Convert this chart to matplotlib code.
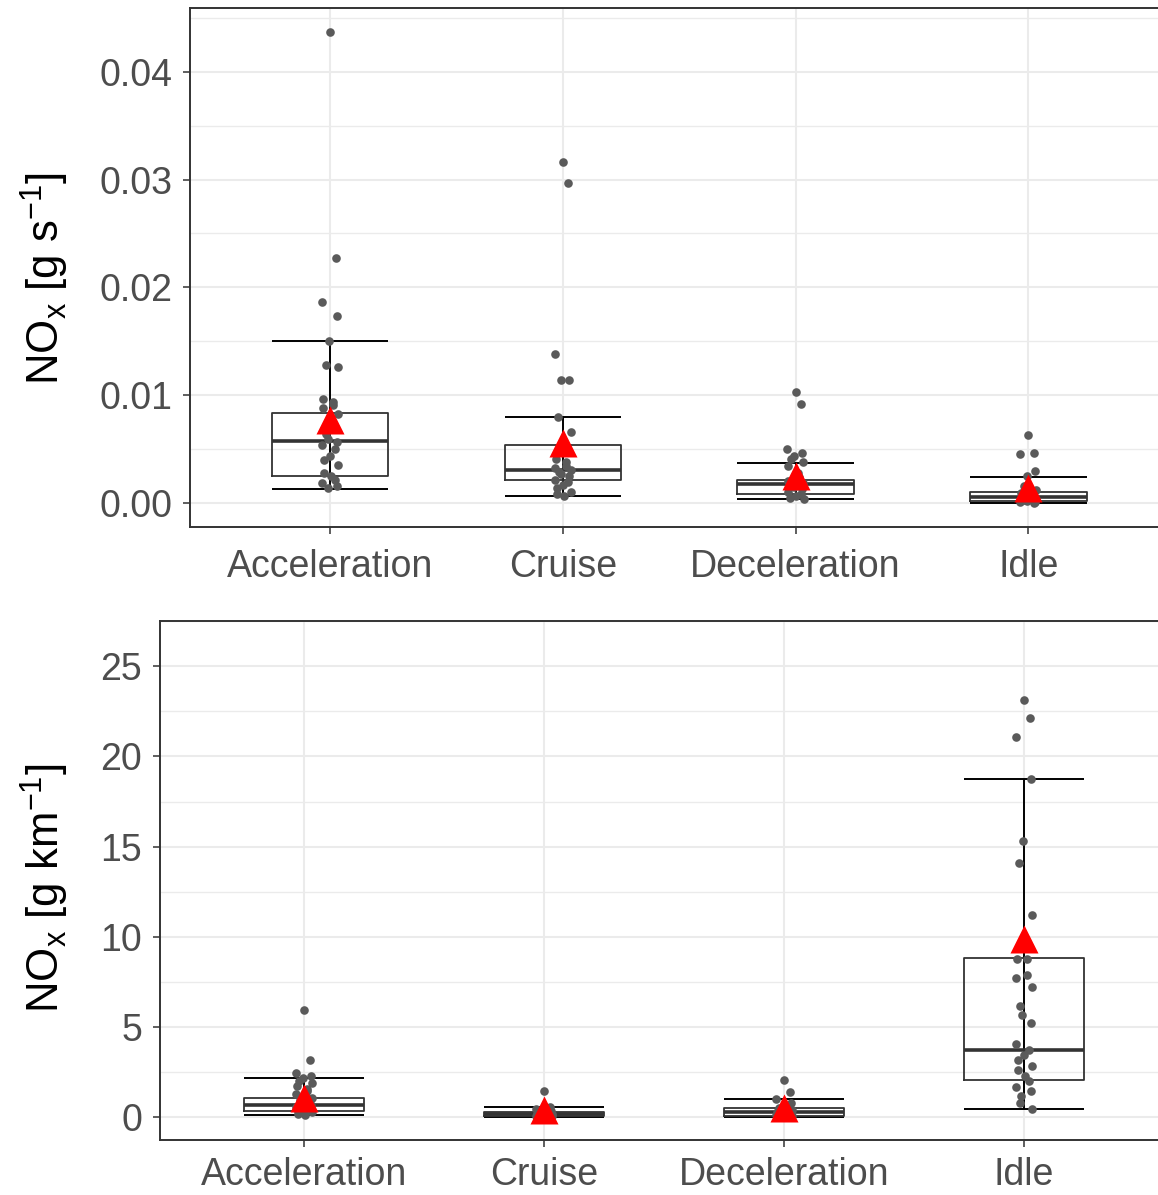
import matplotlib
matplotlib.use("Agg")
import matplotlib.pyplot as plt
import numpy as np

plt.rcParams['font.family'] = ['Liberation Sans', 'DejaVu Sans']
plt.rcParams['mathtext.fontset'] = 'custom'
plt.rcParams['mathtext.rm'] = 'Liberation Sans'
plt.rcParams['mathtext.it'] = 'Liberation Sans:italic'
plt.rcParams['mathtext.bf'] = 'Liberation Sans:bold'

categories = ['Acceleration', 'Cruise', 'Deceleration', 'Idle']

######### top panel: NOx [g/s] #########
gs_points = [
	[0.0437, 0.0227, 0.0187, 0.0174, 0.0150, 0.0128, 0.0126, 0.0097, 0.0094, 0.0091,
	 0.0088, 0.0083, 0.0064, 0.0060, 0.0057, 0.0054, 0.0050, 0.0044, 0.0040, 0.0036,
	 0.0028, 0.0025, 0.0022, 0.0019, 0.0016, 0.0014],
	[0.0316, 0.0297, 0.0138, 0.0114, 0.0114, 0.0080, 0.0066, 0.0041, 0.0038, 0.0035,
	 0.0033, 0.0031, 0.0029, 0.0027, 0.0025, 0.0022, 0.0020, 0.0017, 0.0014, 0.0011,
	 0.0009, 0.0007],
	[0.0103, 0.0092, 0.0050, 0.0047, 0.0044, 0.0041, 0.0038, 0.0035, 0.0028, 0.0024,
	 0.0021, 0.0019, 0.0017, 0.0015, 0.0013, 0.0011, 0.0009, 0.0007, 0.0005, 0.0004],
	[0.0063, 0.0047, 0.0046, 0.0030, 0.0025, 0.0016, 0.0012, 0.0010, 0.0008, 0.0006,
	 0.0005, 0.0004, 0.0003, 0.0002, 0.0001, 0.0001, 0.0000],
]
gs_whislo = [0.0013, 0.0007, 0.0004, 0.0000]
gs_q1     = [0.0025, 0.0022, 0.0009, 0.0002]
gs_median = [0.0058, 0.0031, 0.0018, 0.0006]
gs_q3     = [0.0084, 0.0054, 0.0022, 0.0011]
gs_whishi = [0.0150, 0.0080, 0.0037, 0.0024]
gs_mean   = [0.0077, 0.0056, 0.0025, 0.0014]
gs_ticks  = [0.00, 0.01, 0.02, 0.03, 0.04]

######### bottom panel: NOx [g/km] #########
gkm_points = [
	[5.97, 3.20, 2.45, 2.30, 2.20, 2.00, 1.90, 1.75, 1.60, 1.45, 1.30, 1.10, 0.95,
	 0.80, 0.70, 0.60, 0.50, 0.40, 0.35, 0.30, 0.20, 0.15],
	[1.45, 0.60, 0.45, 0.35, 0.30, 0.25, 0.20, 0.18, 0.15, 0.12, 0.10, 0.08, 0.05, 0.03],
	[2.10, 1.40, 1.00, 0.80, 0.60, 0.50, 0.40, 0.30, 0.25, 0.20, 0.15, 0.10, 0.07,
	 0.05, 0.03],
	[23.1, 22.1, 21.1, 18.75, 15.3, 14.1, 11.2, 8.8, 8.8, 7.9, 7.7, 7.25, 6.2, 5.65,
	 5.25, 4.05, 3.75, 3.45, 3.2, 2.85, 2.65, 2.3, 2.0, 1.7, 1.45, 1.2, 0.8, 0.45],
]
gkm_whislo = [0.13, 0.02, 0.03, 0.45]
gkm_q1     = [0.37, 0.08, 0.08, 2.10]
gkm_median = [0.70, 0.18, 0.30, 3.73]
gkm_q3     = [1.05, 0.30, 0.55, 8.82]
gkm_whishi = [2.20, 0.60, 1.00, 18.75]
gkm_mean   = [1.08, 0.42, 0.50, 9.90]
gkm_ticks  = [0, 5, 10, 15, 20, 25]


def panel(ax, points, whislo, q1, med, q3, whishi, means, ticks, ylim, xpad):
	pos = np.arange(len(categories))
	barWidth = 0.5

	# errorbar style whiskers (through the box)
	ax.vlines(pos, whislo, whishi, color='black', lw=1.4, zorder=2)
	ax.hlines(whislo, pos - barWidth / 2, pos + barWidth / 2, color='black', lw=1.4, zorder=2)
	ax.hlines(whishi, pos - barWidth / 2, pos + barWidth / 2, color='black', lw=1.4, zorder=2)

	stats = []
	for i in range(len(categories)):
		stats.append(dict(whislo=whislo[i], q1=q1[i], med=med[i], q3=q3[i], whishi=whishi[i]))
	ax.bxp(stats, positions=pos, widths=barWidth, showfliers=False, showcaps=False,
		whiskerprops=dict(linewidth=0), manage_ticks=False,
		boxprops=dict(color='#333333', linewidth=1.3, zorder=3),
		medianprops=dict(color='#333333', linewidth=2.6, zorder=3))

	# jittered raw points
	for i, vals in enumerate(points):
		jit = 0.035 * np.sin(np.arange(len(vals)) * 2.4)
		ax.plot(pos[i] + jit, vals, 'o', color='#5a5a5a', ms=6.2, mec='none', zorder=4)

	# means
	ax.plot(pos, means, '^', color='red', ms=19.5, mec='none', zorder=5)

	ax.set_xlim(-0.6, len(categories) - 0.4)
	ax.set_ylim(ylim)
	ax.set_xticks(pos)
	ax.set_xticklabels(categories)
	ax.set_yticks(ticks)
	step = ticks[1] - ticks[0]
	ax.set_yticks([t + step / 2 for t in ticks[:-1]] + [ticks[-1] + step / 2], minor=True)
	ax.set_axisbelow(True)
	ax.grid(True, which='major', color='#EBEBEB', lw=1.5)
	ax.grid(True, which='minor', axis='y', color='#EBEBEB', lw=1.0)
	ax.tick_params(which='major', length=5, width=1.1, color='#333333',
		labelsize=27, labelcolor='#4D4D4D', pad=8)
	ax.tick_params(axis='x', which='major', pad=xpad)
	ax.tick_params(which='minor', length=0)
	for s in ax.spines.values():
		s.set_color('#333333')
		s.set_linewidth(1.4)


def handler():
	fig = plt.figure(figsize=(11.58, 11.95), dpi=100)
	W, H = 1158.0, 1195.0

	ax1 = fig.add_axes([190.4 / W, 1 - 527 / H, 977.6 / W, 519 / H])
	top = max(max(v) for v in gs_points)
	panel(ax1, gs_points, gs_whislo, gs_q1, gs_median, gs_q3, gs_whishi, gs_mean,
		gs_ticks, (-0.05 * top, 1.05 * top), 11)
	ax1.yaxis.set_major_formatter(matplotlib.ticker.FormatStrFormatter('%.2f'))

	ax2 = fig.add_axes([160 / W, 1 - 1140 / H, 1008 / W, 519 / H])
	panel(ax2, gkm_points, gkm_whislo, gkm_q1, gkm_median, gkm_q3, gkm_whishi, gkm_mean,
		gkm_ticks, (-1.25, 26.25), 7)

	fig.text(45 / W, 1 - 279 / H, r'NO$_{\mathrm{x}}$ [g s$^{\mathrm{-1}}$]', rotation=90,
		ha='center', va='center', fontsize=31.5, color='black')
	fig.text(45 / W, 1 - 888 / H, r'NO$_{\mathrm{x}}$ [g km$^{\mathrm{-1}}$]', rotation=90,
		ha='center', va='center', fontsize=31.5, color='black')

	fig.savefig("out.png", dpi=100)


if __name__ == "__main__":
	handler()
